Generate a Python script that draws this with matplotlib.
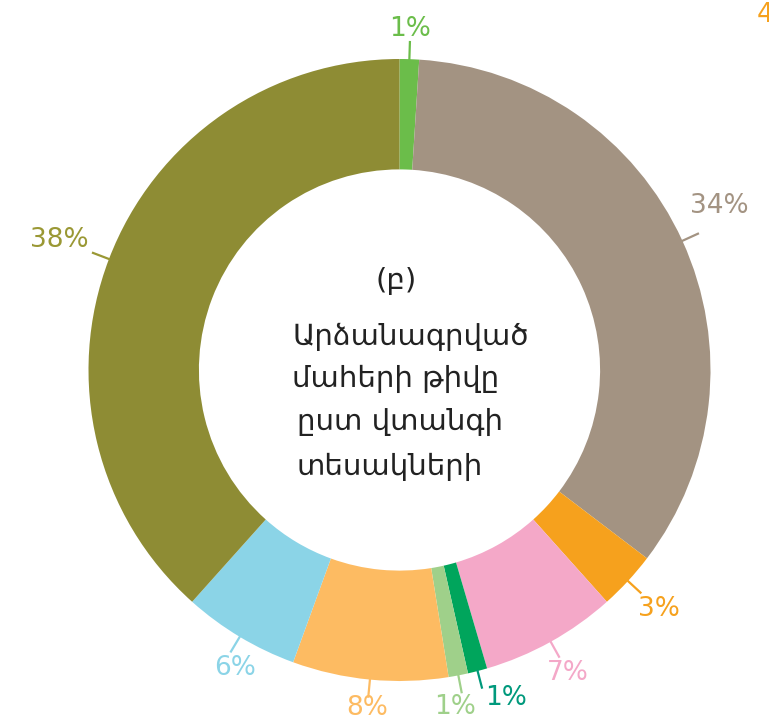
import numpy as np
import matplotlib
matplotlib.use("Agg")
import matplotlib.pyplot as plt

# ----------- DATA ------------
shares = [1, 34, 3, 7, 1, 1, 8, 6, 38]
labels = ["1%", "34%", "3%", "7%", "1%", "1%", "8%", "6%", "38%"]
colors = ["#6bbd4a", "#a39382", "#f6a11d", "#f4a8c8", "#00a55c",
          "#9fd08a", "#fdbb62", "#8bd4e7", "#8e8c34"]
text_colors = ["#6bbd4a", "#a39382", "#f6a11d", "#f4a8c8", "#00997c",
               "#9fd08a", "#fdbb62", "#8bd4e7", "#9a9834"]
# small angle nudges (deg) so the two bottom 1% labels don't collide
nudge = [0, 2.5, 0, 0, 3.5, -1.5, 0, 2, 0]
# radial tweaks for a few labels
r_adj = [0, -0.01, -0.02, -0.02, -0.01, -0.01, -0.01, -0.04, 0]

center_title = "(բ)"
center_lines = ["Արձանագրված", "մահերի թիվը", "ըստ վտանգի", "տեսակների"]

plt.rcParams["font.family"] = ["DejaVu Sans"]

W, H = 769, 721
R_PX = 311.0
cx, cy = 399.5, 370.0

fig = plt.figure(figsize=(W / 100, H / 100), dpi=100)
ax = fig.add_axes([0, 0, 1, 1])
ax.axis("off")

wedges, _ = ax.pie(shares, colors=colors, startangle=90, counterclock=False,
                   radius=1.0, wedgeprops=dict(width=0.355, linewidth=0))

ax.set_xlim(-cx / R_PX, (W - cx) / R_PX)
ax.set_ylim(-(H - cy) / R_PX, cy / R_PX)

# ----------- LABELS ------------
for w, lab, tc, dn, dr in zip(wedges, labels, text_colors, nudge, r_adj):
    mid = (w.theta1 + w.theta2) / 2
    a = np.deg2rad(mid)
    ax.plot([1.0 * np.cos(a), 1.055 * np.cos(a)],
            [1.0 * np.sin(a), 1.055 * np.sin(a)], color=tc, lw=1.6)
    at = np.deg2rad(mid + dn)
    r = 1.095 + 0.08 * abs(np.cos(at)) + dr
    ax.text(r * np.cos(at), r * np.sin(at), lab, color=tc, fontsize=19,
            ha="center", va="center")

# ----------- CENTER TEXT ------------
ax.text(-0.01, 0.285, center_title, fontsize=21, ha="center", va="center",
        color="#222222")
line_y = [0.105, -0.03, -0.168, -0.31]
line_x = [-0.345, -0.345, -0.33, -0.33]
for s, x, y in zip(center_lines, line_x, line_y):
    ax.text(x, y, s, fontsize=21, ha="left", va="center", color="#222222")

# cropped label from the neighbouring chart
fig.text(757 / W, 1 - 2 / H, "4", fontsize=19, color="#f6a11d",
         ha="left", va="top")

fig.savefig("out.png", dpi=100)
